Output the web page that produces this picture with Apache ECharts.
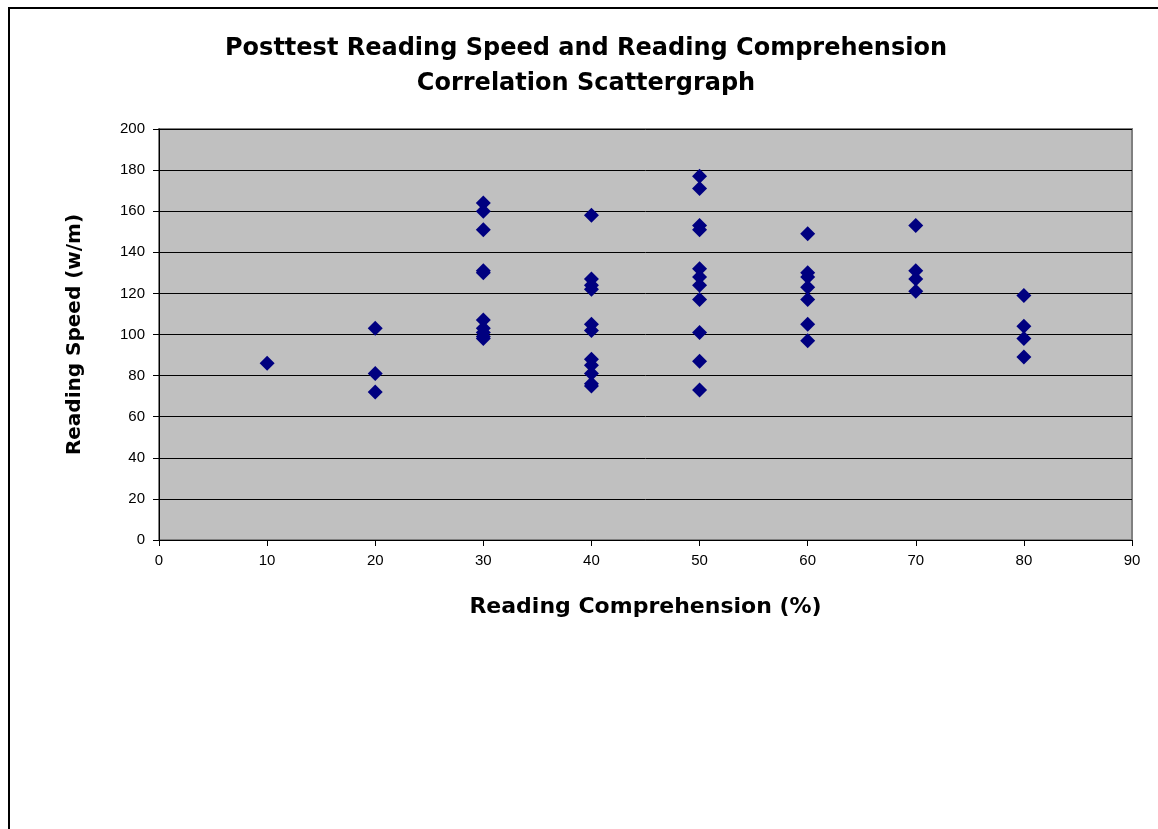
<!DOCTYPE html>
<html>
<head>
<meta charset="utf-8">
<script src="https://cdn.jsdelivr.net/npm/echarts@6/dist/echarts.min.js"></script>
<style>
  html, body { margin: 0; padding: 0; background: #fff; }
  #frame {
    position: absolute; left: 8px; top: 7px; width: 1200px; height: 900px;
    border-left: 2px solid #000; border-top: 2px solid #000;
  }
  #chart { position: absolute; left: 0; top: 0; width: 1158px; height: 829px; }
</style>
</head>
<body>
<div id="frame"></div>
<div id="chart"></div>
<script>
// reading comprehension (%) per column and the speeds (w/m)
const comp10 = [86];
const comp20 = [103, 81, 72];
const comp30 = [164, 160, 151, 131, 130, 107, 103, 101, 99, 98];
const comp40 = [158, 127, 124, 122, 105, 102, 88, 85, 81, 76, 75];
const comp50 = [177, 171, 153, 151, 132, 128, 124, 117, 101, 87, 73];
const comp60 = [149, 130, 128, 123, 117, 105, 97];
const comp70 = [153, 131, 127, 121];
const comp80 = [119, 104, 98, 89];

const columns = [
  [10, comp10], [20, comp20], [30, comp30], [40, comp40],
  [50, comp50], [60, comp60], [70, comp70], [80, comp80]
];

const points = [];
columns.forEach(([x, speeds]) => {
  speeds.forEach(s => points.push([x, s]));
});

const chart = echarts.init(document.getElementById('chart'));

const font = '"Liberation Sans", Arial, sans-serif';
// the bold captions in the original are set quite wide
const wideFont = '"DejaVu Sans", Verdana, sans-serif';

chart.setOption({
  backgroundColor: 'transparent',
  animation: false,
  textStyle: { fontFamily: font },
  title: {
    text: 'Posttest Reading Speed and Reading Comprehension\nCorrelation Scattergraph',
    left: 581,
    top: 26,
    textAlign: 'center',
    textStyle: {
      fontFamily: wideFont,
      fontSize: 24,
      fontWeight: 'bold',
      color: '#000',
      lineHeight: 35
    }
  },
  grid: {
    left: 159,
    top: 129,
    right: 26,
    bottom: 289,
    show: true,
    backgroundColor: '#c0c0c0',
    borderColor: '#808080',
    borderWidth: 2
  },
  xAxis: {
    type: 'value',
    min: 0,
    max: 90,
    interval: 10,
    name: 'Reading Comprehension (%)',
    nameLocation: 'middle',
    nameGap: 56,
    nameTextStyle: { fontFamily: wideFont, fontSize: 22, fontWeight: 'bold', color: '#000' },
    axisLine: { show: true, lineStyle: { color: '#000', width: 1 } },
    axisTick: { show: true, length: 6, lineStyle: { color: '#000' } },
    axisLabel: { fontFamily: font, fontSize: 15, color: '#000', margin: 13 },
    splitLine: { show: false }
  },
  yAxis: {
    type: 'value',
    min: 0,
    max: 200,
    interval: 20,
    name: 'Reading Speed (w/m)',
    nameLocation: 'middle',
    nameGap: 74,
    nameTextStyle: { fontFamily: wideFont, fontSize: 20, fontWeight: 'bold', color: '#000' },
    axisLine: { show: true, lineStyle: { color: '#000', width: 1 } },
    axisTick: { show: true, length: 6, lineStyle: { color: '#000' } },
    axisLabel: { fontFamily: font, fontSize: 15, color: '#000', margin: 14 },
    splitLine: { show: true, lineStyle: { color: '#000', width: 1 } }
  },
  series: [
    {
      type: 'scatter',
      symbol: 'diamond',
      symbolSize: [15, 15],
      itemStyle: { color: '#000080', opacity: 1 },
      data: points
    }
  ]
});
</script>
</body>
</html>
